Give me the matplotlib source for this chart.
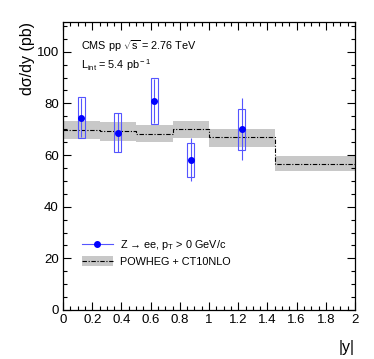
import numpy as np
import matplotlib
matplotlib.use('Agg')
import matplotlib.pyplot as plt
from matplotlib.lines import Line2D
from matplotlib.patches import Patch, Rectangle
from matplotlib.ticker import MultipleLocator

plt.rcParams['font.family'] = ['Liberation Sans', 'DejaVu Sans']
plt.rcParams['mathtext.fontset'] = 'custom'
plt.rcParams['mathtext.rm'] = 'Liberation Sans'
plt.rcParams['mathtext.it'] = 'Liberation Sans:italic'
plt.rcParams['mathtext.bf'] = 'Liberation Sans:bold'

# data points (Z -> ee)
y_pts = [0.125, 0.375, 0.625, 0.875, 1.225]
xs_val = [74.5, 68.7, 81.0, 58.2, 70.0]
stat_err = [7.5, 7.5, 8.5, 8.3, 12.0]
syst_err = [8.0, 7.7, 9.0, 6.6, 7.9]

# theory (POWHEG + CT10NLO), per bin
bin_edges = [0.0, 0.25, 0.5, 0.75, 1.0, 1.45, 2.0]
th_val = [69.5, 69.2, 68.3, 70.0, 66.8, 56.7]
th_lo = [66.2, 65.6, 64.9, 66.4, 63.2, 53.8]
th_hi = [73.0, 72.7, 71.8, 73.3, 70.1, 59.5]

fig = plt.figure(figsize=(3.74, 3.59), dpi=100)
ax = fig.add_axes([63/374, 1-310/359, 292/374, 288/359])

# theory band + step line
edges = np.array(bin_edges)
lo = np.append(th_lo, th_lo[-1])
hi = np.append(th_hi, th_hi[-1])
mid = np.append(th_val, th_val[-1])
dashdot = (0, (4, 1.5, 1, 1.5))
ax.fill_between(edges, lo, hi, step='post', color='#c8c8c8', lw=0, zorder=1)
ax.plot(edges, mid, drawstyle='steps-post', color='black', lw=0.8, ls=dashdot, zorder=2)

# data: systematic boxes, stat bars, markers
blue = '#0000ff'
for x, v, s in zip(y_pts, xs_val, syst_err):
    ax.add_patch(Rectangle((x - 0.024, v - s), 0.048, 2 * s, fill=False,
                           ec='#5555ff', lw=0.8, zorder=3))
ax.errorbar(y_pts, xs_val, yerr=stat_err, fmt='o', color=blue, ecolor='#5555ff',
            ms=4, elinewidth=0.8, capsize=0, zorder=4)

ax.set_xlim(0, 2)
ax.set_ylim(0, 111.5)
ax.xaxis.set_minor_locator(MultipleLocator(0.05))
ax.yaxis.set_major_locator(MultipleLocator(20))
ax.yaxis.set_minor_locator(MultipleLocator(5))
ax.set_xticks(np.arange(0, 2.01, 0.2))
ax.set_xticklabels(['0', '0.2', '0.4', '0.6', '0.8', '1', '1.2', '1.4', '1.6', '1.8', '2'])
ax.tick_params(which='both', direction='in', top=True, right=True, labelsize=9.5, width=0.8)
ax.tick_params(which='major', length=6, pad=3)
ax.tick_params(which='minor', length=3)
for sp in ax.spines.values():
    sp.set_linewidth(0.9)

ax.set_xlabel('|y|', fontsize=11.5, loc='right', labelpad=10)
ax.set_ylabel('d\u03c3/dy (pb)', fontsize=11.5, loc='top', labelpad=1)

ax.text(0.062, 0.915, r'CMS pp $\sqrt{\rm s}$ = 2.76 TeV', transform=ax.transAxes,
        fontsize=7.8, va='center')
ax.text(0.062, 0.85, r'L$_{\rm int}$ = 5.4 pb$^{\rm -1}$', transform=ax.transAxes,
        fontsize=7.8, va='center')

h_data = Line2D([], [], color='#5555ff', lw=0.8, marker='o', ms=4,
                markerfacecolor=blue, markeredgecolor=blue)
h_th = (Patch(facecolor='#c8c8c8', edgecolor='none'),
        Line2D([], [], color='black', lw=0.8, ls=dashdot))
ax.legend([h_data, h_th], ['Z \u2192 ee, p$_{\\rm T}$ > 0 GeV/c', 'POWHEG + CT10NLO'],
          loc='upper left', bbox_to_anchor=(0.064, 0.25), frameon=False,
          fontsize=7.8, handlelength=2.9, handleheight=1.0, handletextpad=0.6,
          labelspacing=0.4, borderpad=0, borderaxespad=0)

fig.savefig('out.png', dpi=100)
